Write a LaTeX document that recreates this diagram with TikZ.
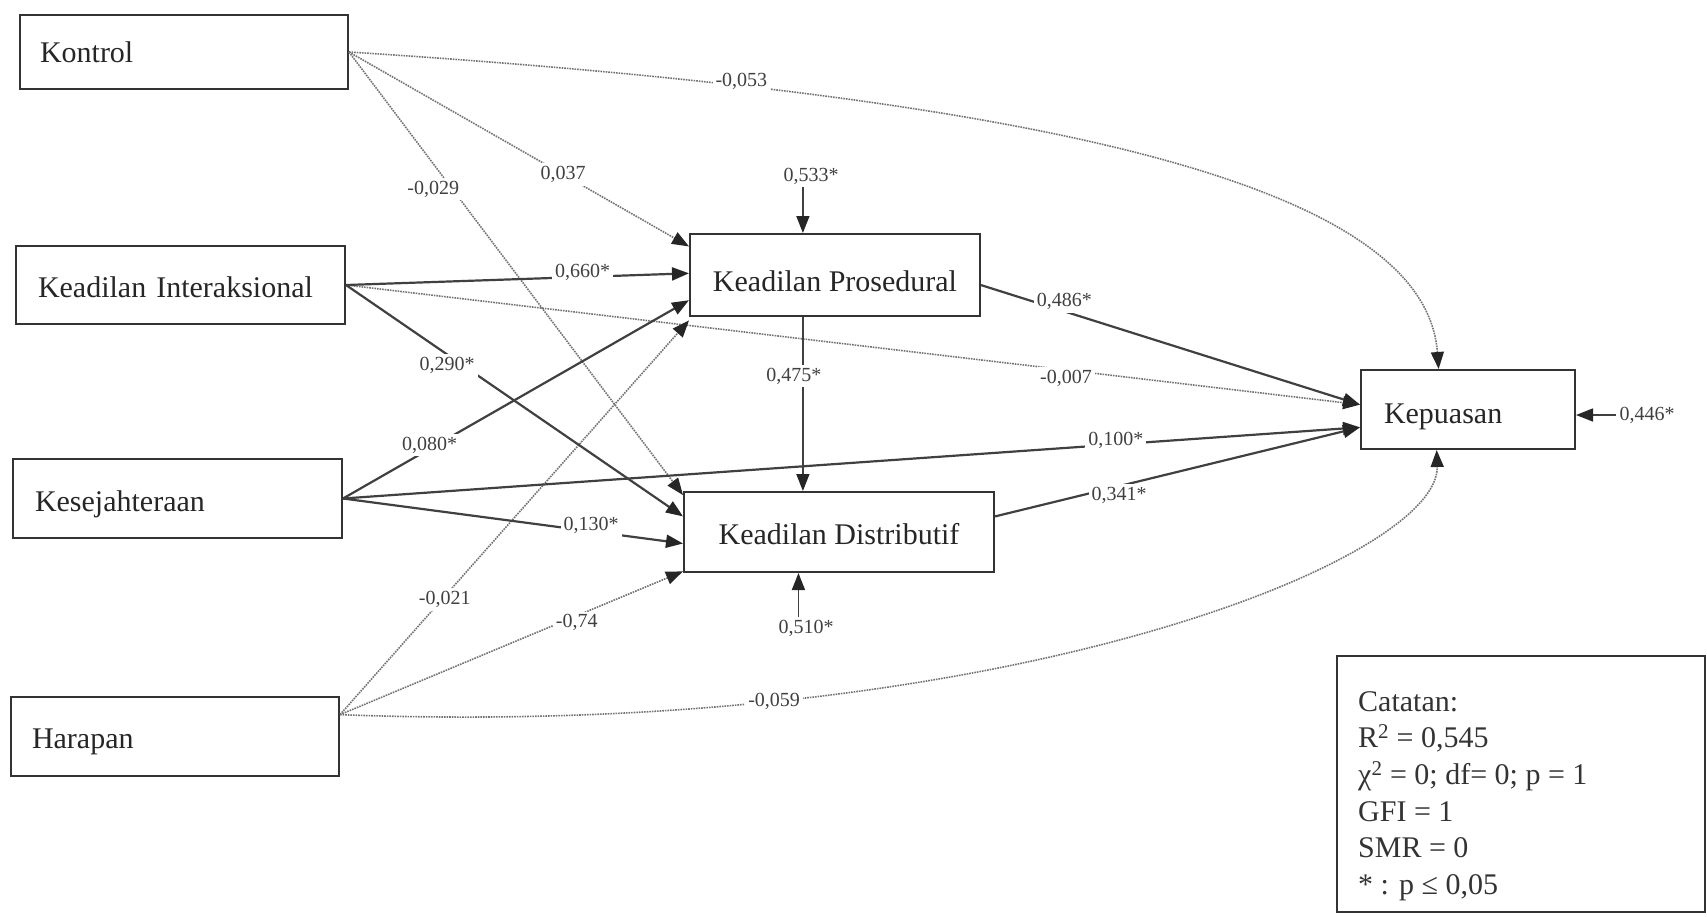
\documentclass[tikz,border=0pt]{standalone}
\usepackage{fontspec}
\setmainfont{Liberation Serif}
\usetikzlibrary{arrows.meta,calc}
\begin{document}
\begin{tikzpicture}[x=1pt,y=-1pt,
  box/.style={draw=black!80,line width=2pt,inner ysep=0pt,text depth=0pt,font=\fontsize{30}{36}\selectfont,text=black!85},
  lbl/.style={fill=white,inner sep=3pt,font=\fontsize{20}{24}\selectfont,text=black!75},
  tip/.style={-{Triangle[length=17pt,width=13pt,color=black!85]}},
  sol/.style={tip,line width=2.2pt,draw=black!75},
  thin/.style={tip,line width=1.5pt,draw=black!75},
  dot/.style={tip,line width=1.6pt,draw=black!55,densely dotted},
]
\useasboundingbox (0,0) rectangle (1707,916);

% boxes
\node[box,text width=288pt,align=left,inner xsep=20pt,minimum height=74pt,text height=21pt] (K) at (184,52) {Kontrol};
\node[box,text width=285pt,align=left,inner xsep=22pt,minimum height=78pt,text height=24pt] (KI) at (180.5,285) {Keadilan Interaksional};
\node[box,text width=285pt,align=left,inner xsep=22pt,minimum height=79pt,text height=26pt] (KS) at (177.5,498.5) {Kesejahteraan};
\node[box,text width=286pt,align=left,inner xsep=21pt,minimum height=79pt,text height=24pt] (H) at (175,736.5) {Harapan};
\node[box,minimum width=290pt,minimum height=82pt,text height=32pt] (KP) at (835,275) {Keadilan Prosedural};
\node[box,minimum width=310pt,minimum height=80pt,text height=24pt] (KD) at (839,532) {Keadilan Distributif};
\node[box,text width=168pt,align=left,inner xsep=23pt,minimum height=79pt,text height=28pt] (KE) at (1468,409.5) {Kepuasan};
\node[draw=black!80,line width=2pt,minimum width=368pt,minimum height=256pt] (N) at (1521,784) {};
\node[anchor=north west,align=left,inner sep=0pt,font=\fontsize{30}{36.7}\selectfont,text=black!80]
  (NT) at ($(N.north west)+(22,36)$)
  {Catatan:\\R\textsuperscript{2} = 0,545\\χ\textsuperscript{2} = 0; df= 0; p = 1\\GFI = 1\\SMR = 0\\{*} : p ≤ 0,05};

% anchor points
\coordinate (hs) at ($(H.north east)!0.23!(H.south east)$);
\coordinate (kps) at ($(KP.north east)!0.62!(KP.south east)$);
\coordinate (kds) at ($(KD.north east)!0.31!(KD.south east)$);
\coordinate (kpb) at ($(KP.south west)!0.39!(KP.south east)$);
\coordinate (kpt) at ($(KP.north west)!0.39!(KP.north east)$);
\coordinate (kdb) at ($(KD.south west)!0.37!(KD.south east)$);
\coordinate (ket) at ($(KE.north west)!0.364!(KE.north east)$);
\coordinate (keb) at ($(KE.south west)!0.355!(KE.south east)$);

% dotted paths
\draw[dot] (K.east) -- node[lbl,pos=0.63] (l1) {0,037} ($(KP.north west)!0.16!(KP.south west)$);
\draw[dot] (K.east) -- node[lbl,pos=0.30,xshift=-16pt,yshift=-4pt] (l2) {-0,029} ($(KD.north west)!0.05!(KD.south west)$);
\draw[dot] (K.east) .. controls (1048,97) and (1425,185) .. (ket) node[lbl,pos=0.21,xshift=-5pt,yshift=5pt] (l3) {-0,053};
\draw[dot] (KI.east) -- node[lbl,pos=0.71,yshift=-8pt] (l4) {-0,007} ($(KE.north west)!0.44!(KE.south west)$);
\draw[dot] (hs) -- node[lbl,pos=0.30,yshift=-3pt] (l5) {-0,021} ($(KP.north west)!1.04!(KP.south west)$);
\draw[dot] (hs) -- node[lbl,pos=0.69,yshift=-7pt] (l6) {-0,74} ($(KD.north west)!0.98!(KD.south west)$);
\draw[dot] (hs) .. controls (1000,740) and (1440,560) .. (keb) node[lbl,pos=0.24] (l7) {-0,059};

% solid paths
\draw[sol] (KI.east) -- node[lbl,pos=0.69,yshift=5pt] (l8) {0,660*} ($(KP.north west)!0.48!(KP.south west)$);
\draw[sol] (KI.east) -- node[lbl,pos=0.30,yshift=-11pt] (l9) {0,290*} ($(KD.north west)!0.31!(KD.south west)$);
\draw[sol] (KS.east) -- node[lbl,pos=0.25,yshift=4pt] (l10) {0,080*} ($(KP.north west)!0.80!(KP.south west)$);
\draw[sol] (KS.east) -- node[lbl,pos=0.76,yshift=4pt] (l11) {0,100*} ($(KE.north west)!0.72!(KE.south west)$);
\draw[sol] (KS.east) -- node[lbl,pos=0.73,yshift=6pt] (l12) {0,130*} ($(KD.north west)!0.64!(KD.south west)$);
\draw[sol] (kps) -- node[lbl,pos=0.22,yshift=10pt] (l13) {0,486*} ($(KE.north west)!0.44!(KE.south west)$);
\draw[sol] (kds) -- node[lbl,pos=0.34,yshift=-9pt] (l14) {0,341*} ($(KE.north west)!0.72!(KE.south west)$);
\draw[thin] (kpb) -- node[lbl,pos=0.34,xshift=-9pt] (l15) {0,475*} (kpb |- KD.north);

% error terms
\node[lbl] (e1) at (811,176) {0,533*};
\draw[thin] (e1.south -| kpt) -- (kpt);
\node[lbl] (e2) at (806,628) {0,510*};
\draw[thin] (e2.north -| kdb) -- (kdb);
\node[lbl] (e3) at (1647,415) {0,446*};
\draw[thin] (e3.west) -- (e3.west -| KE.east);
\end{tikzpicture}
\end{document}
